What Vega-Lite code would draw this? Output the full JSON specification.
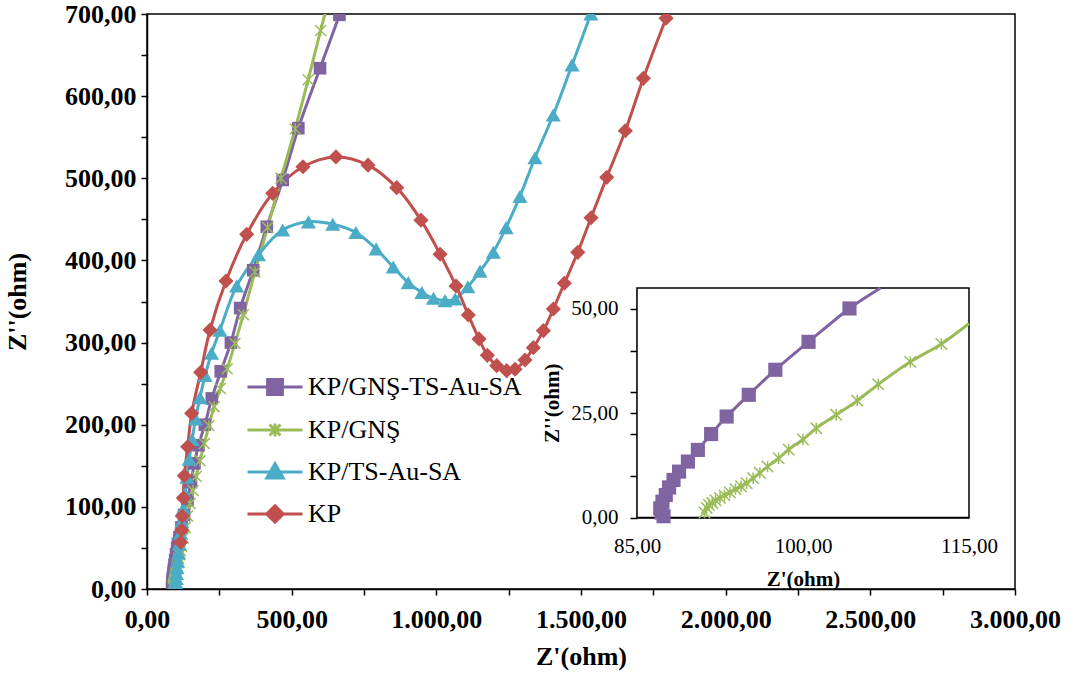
{
  "$schema": "https://vega.github.io/schema/vega-lite/v6.json",
  "width": 868,
  "height": 575,
  "autosize": {"type": "none"},
  "padding": {"left": 147, "top": 14, "right": 55, "bottom": 87},
  "background": "white",
  "config": {
    "locale": {"number": {"decimal": ",", "thousands": ".", "grouping": [3], "currency": ["", ""]}},
    "view": {"stroke": "black", "strokeWidth": 1.5},
    "font": "Liberation Serif",
    "axis": {"labelFont": "Liberation Serif", "titleFont": "Liberation Serif", "labelColor": "black", "titleColor": "black", "domainColor": "black", "tickColor": "black", "domainWidth": 1.5, "tickWidth": 1.5, "grid": false, "zindex": 1, "labelFlush": false, "labelOverlap": false, "labelBound": false}
  },
  "datasets": {
    "d": [
      {"s": "KP/GNŞ-TS-Au-SA", "i": 0, "x": 87.4, "y": 0.3},
      {"s": "KP/GNŞ-TS-Au-SA", "i": 1, "x": 87.2, "y": 1.2},
      {"s": "KP/GNŞ-TS-Au-SA", "i": 2, "x": 87.1, "y": 2.2},
      {"s": "KP/GNŞ-TS-Au-SA", "i": 3, "x": 87.3, "y": 3.8},
      {"s": "KP/GNŞ-TS-Au-SA", "i": 4, "x": 87.6, "y": 5.4},
      {"s": "KP/GNŞ-TS-Au-SA", "i": 5, "x": 87.9, "y": 7.2},
      {"s": "KP/GNŞ-TS-Au-SA", "i": 6, "x": 88.3, "y": 9},
      {"s": "KP/GNŞ-TS-Au-SA", "i": 7, "x": 88.8, "y": 11},
      {"s": "KP/GNŞ-TS-Au-SA", "i": 8, "x": 89.6, "y": 13.4},
      {"s": "KP/GNŞ-TS-Au-SA", "i": 9, "x": 90.5, "y": 16.2},
      {"s": "KP/GNŞ-TS-Au-SA", "i": 10, "x": 91.7, "y": 20},
      {"s": "KP/GNŞ-TS-Au-SA", "i": 11, "x": 93.1, "y": 24.2},
      {"s": "KP/GNŞ-TS-Au-SA", "i": 12, "x": 95.1, "y": 29.4},
      {"s": "KP/GNŞ-TS-Au-SA", "i": 13, "x": 97.5, "y": 35.4},
      {"s": "KP/GNŞ-TS-Au-SA", "i": 14, "x": 100.5, "y": 42.1},
      {"s": "KP/GNŞ-TS-Au-SA", "i": 15, "x": 104.2, "y": 50.1},
      {"s": "KP/GNŞ-TS-Au-SA", "i": 16, "x": 107, "y": 55},
      {"s": "KP/GNŞ-TS-Au-SA", "i": 17, "x": 112, "y": 63},
      {"s": "KP/GNŞ-TS-Au-SA", "i": 18, "x": 119, "y": 75},
      {"s": "KP/GNŞ-TS-Au-SA", "i": 19, "x": 128, "y": 90},
      {"s": "KP/GNŞ-TS-Au-SA", "i": 20, "x": 140, "y": 108},
      {"s": "KP/GNŞ-TS-Au-SA", "i": 21, "x": 152, "y": 130},
      {"s": "KP/GNŞ-TS-Au-SA", "i": 22, "x": 164, "y": 153},
      {"s": "KP/GNŞ-TS-Au-SA", "i": 23, "x": 178, "y": 175},
      {"s": "KP/GNŞ-TS-Au-SA", "i": 24, "x": 200, "y": 200},
      {"s": "KP/GNŞ-TS-Au-SA", "i": 25, "x": 224, "y": 232},
      {"s": "KP/GNŞ-TS-Au-SA", "i": 26, "x": 255, "y": 265},
      {"s": "KP/GNŞ-TS-Au-SA", "i": 27, "x": 290, "y": 300},
      {"s": "KP/GNŞ-TS-Au-SA", "i": 28, "x": 322, "y": 342},
      {"s": "KP/GNŞ-TS-Au-SA", "i": 29, "x": 367, "y": 388},
      {"s": "KP/GNŞ-TS-Au-SA", "i": 30, "x": 414, "y": 441},
      {"s": "KP/GNŞ-TS-Au-SA", "i": 31, "x": 469, "y": 498},
      {"s": "KP/GNŞ-TS-Au-SA", "i": 32, "x": 523, "y": 561},
      {"s": "KP/GNŞ-TS-Au-SA", "i": 33, "x": 598, "y": 634},
      {"s": "KP/GNŞ-TS-Au-SA", "i": 34, "x": 665, "y": 699},
      {"s": "KP/GNŞ-TS-Au-SA", "i": 35, "x": 678, "y": 714},

      {"s": "KP/GNŞ", "i": 0, "x": 91.1, "y": 1.2},
      {"s": "KP/GNŞ", "i": 1, "x": 91.3, "y": 2.3},
      {"s": "KP/GNŞ", "i": 2, "x": 91.5, "y": 3.0},
      {"s": "KP/GNŞ", "i": 3, "x": 91.8, "y": 3.5},
      {"s": "KP/GNŞ", "i": 4, "x": 92.1, "y": 4.1},
      {"s": "KP/GNŞ", "i": 5, "x": 92.5, "y": 4.7},
      {"s": "KP/GNŞ", "i": 6, "x": 92.9, "y": 5.3},
      {"s": "KP/GNŞ", "i": 7, "x": 93.4, "y": 6.0},
      {"s": "KP/GNŞ", "i": 8, "x": 93.9, "y": 6.8},
      {"s": "KP/GNŞ", "i": 9, "x": 94.4, "y": 7.5},
      {"s": "KP/GNŞ", "i": 10, "x": 94.9, "y": 8.2},
      {"s": "KP/GNŞ", "i": 11, "x": 95.5, "y": 9.4},
      {"s": "KP/GNŞ", "i": 12, "x": 96.1, "y": 10.7},
      {"s": "KP/GNŞ", "i": 13, "x": 96.8, "y": 12.2},
      {"s": "KP/GNŞ", "i": 14, "x": 97.8, "y": 14.2},
      {"s": "KP/GNŞ", "i": 15, "x": 98.7, "y": 16.3},
      {"s": "KP/GNŞ", "i": 16, "x": 100, "y": 18.7},
      {"s": "KP/GNŞ", "i": 17, "x": 101.2, "y": 21.4},
      {"s": "KP/GNŞ", "i": 18, "x": 103, "y": 24.6},
      {"s": "KP/GNŞ", "i": 19, "x": 104.9, "y": 28},
      {"s": "KP/GNŞ", "i": 20, "x": 106.8, "y": 31.9},
      {"s": "KP/GNŞ", "i": 21, "x": 109.7, "y": 37.3},
      {"s": "KP/GNŞ", "i": 22, "x": 112.5, "y": 41.6},
      {"s": "KP/GNŞ", "i": 23, "x": 115, "y": 46.5},
      {"s": "KP/GNŞ", "i": 24, "x": 119, "y": 52},
      {"s": "KP/GNŞ", "i": 25, "x": 125, "y": 62},
      {"s": "KP/GNŞ", "i": 26, "x": 132, "y": 75},
      {"s": "KP/GNŞ", "i": 27, "x": 140, "y": 89},
      {"s": "KP/GNŞ", "i": 28, "x": 149, "y": 104},
      {"s": "KP/GNŞ", "i": 29, "x": 159, "y": 120},
      {"s": "KP/GNŞ", "i": 30, "x": 170, "y": 137},
      {"s": "KP/GNŞ", "i": 31, "x": 183, "y": 156},
      {"s": "KP/GNŞ", "i": 32, "x": 198, "y": 177},
      {"s": "KP/GNŞ", "i": 33, "x": 214, "y": 199},
      {"s": "KP/GNŞ", "i": 34, "x": 232, "y": 222},
      {"s": "KP/GNŞ", "i": 35, "x": 253, "y": 244},
      {"s": "KP/GNŞ", "i": 36, "x": 277, "y": 268},
      {"s": "KP/GNŞ", "i": 37, "x": 304, "y": 299},
      {"s": "KP/GNŞ", "i": 38, "x": 333, "y": 334},
      {"s": "KP/GNŞ", "i": 39, "x": 373, "y": 386},
      {"s": "KP/GNŞ", "i": 40, "x": 417, "y": 440},
      {"s": "KP/GNŞ", "i": 41, "x": 463, "y": 500},
      {"s": "KP/GNŞ", "i": 42, "x": 512, "y": 560},
      {"s": "KP/GNŞ", "i": 43, "x": 557, "y": 620},
      {"s": "KP/GNŞ", "i": 44, "x": 600, "y": 680},
      {"s": "KP/GNŞ", "i": 45, "x": 624, "y": 712},

      {"s": "KP/TS-Au-SA", "i": 0, "x": 98, "y": 1},
      {"s": "KP/TS-Au-SA", "i": 1, "x": 99, "y": 4},
      {"s": "KP/TS-Au-SA", "i": 2, "x": 100, "y": 8},
      {"s": "KP/TS-Au-SA", "i": 3, "x": 101, "y": 13},
      {"s": "KP/TS-Au-SA", "i": 4, "x": 102, "y": 19},
      {"s": "KP/TS-Au-SA", "i": 5, "x": 104, "y": 26},
      {"s": "KP/TS-Au-SA", "i": 6, "x": 106, "y": 34},
      {"s": "KP/TS-Au-SA", "i": 7, "x": 109, "y": 44},
      {"s": "KP/TS-Au-SA", "i": 8, "x": 112, "y": 55},
      {"s": "KP/TS-Au-SA", "i": 9, "x": 116, "y": 68},
      {"s": "KP/TS-Au-SA", "i": 10, "x": 120, "y": 82},
      {"s": "KP/TS-Au-SA", "i": 11, "x": 125, "y": 98},
      {"s": "KP/TS-Au-SA", "i": 12, "x": 131, "y": 116},
      {"s": "KP/TS-Au-SA", "i": 13, "x": 138, "y": 136},
      {"s": "KP/TS-Au-SA", "i": 14, "x": 146, "y": 158},
      {"s": "KP/TS-Au-SA", "i": 15, "x": 156, "y": 182},
      {"s": "KP/TS-Au-SA", "i": 16, "x": 168, "y": 207},
      {"s": "KP/TS-Au-SA", "i": 17, "x": 183, "y": 233},
      {"s": "KP/TS-Au-SA", "i": 18, "x": 201, "y": 260},
      {"s": "KP/TS-Au-SA", "i": 19, "x": 223, "y": 287},
      {"s": "KP/TS-Au-SA", "i": 20, "x": 252, "y": 315},
      {"s": "KP/TS-Au-SA", "i": 21, "x": 310, "y": 369},
      {"s": "KP/TS-Au-SA", "i": 22, "x": 385, "y": 407},
      {"s": "KP/TS-Au-SA", "i": 23, "x": 469, "y": 437},
      {"s": "KP/TS-Au-SA", "i": 24, "x": 558, "y": 447},
      {"s": "KP/TS-Au-SA", "i": 25, "x": 642, "y": 444},
      {"s": "KP/TS-Au-SA", "i": 26, "x": 722, "y": 434},
      {"s": "KP/TS-Au-SA", "i": 27, "x": 792, "y": 414},
      {"s": "KP/TS-Au-SA", "i": 28, "x": 851, "y": 392},
      {"s": "KP/TS-Au-SA", "i": 29, "x": 903, "y": 373},
      {"s": "KP/TS-Au-SA", "i": 30, "x": 950, "y": 361},
      {"s": "KP/TS-Au-SA", "i": 31, "x": 990, "y": 354},
      {"s": "KP/TS-Au-SA", "i": 32, "x": 1030, "y": 351},
      {"s": "KP/TS-Au-SA", "i": 33, "x": 1065, "y": 353},
      {"s": "KP/TS-Au-SA", "i": 34, "x": 1109, "y": 368},
      {"s": "KP/TS-Au-SA", "i": 35, "x": 1151, "y": 387},
      {"s": "KP/TS-Au-SA", "i": 36, "x": 1197, "y": 410},
      {"s": "KP/TS-Au-SA", "i": 37, "x": 1241, "y": 440},
      {"s": "KP/TS-Au-SA", "i": 38, "x": 1289, "y": 478},
      {"s": "KP/TS-Au-SA", "i": 39, "x": 1341, "y": 525},
      {"s": "KP/TS-Au-SA", "i": 40, "x": 1404, "y": 577},
      {"s": "KP/TS-Au-SA", "i": 41, "x": 1469, "y": 638},
      {"s": "KP/TS-Au-SA", "i": 42, "x": 1534, "y": 700},
      {"s": "KP/TS-Au-SA", "i": 43, "x": 1548, "y": 714},

      {"s": "KP", "i": 0, "x": 116.5, "y": 56.9},
      {"s": "KP", "i": 1, "x": 120, "y": 71.8},
      {"s": "KP", "i": 2, "x": 122, "y": 88.9},
      {"s": "KP", "i": 3, "x": 125.5, "y": 110.8},
      {"s": "KP", "i": 4, "x": 129, "y": 137.9},
      {"s": "KP", "i": 5, "x": 140.6, "y": 173.2},
      {"s": "KP", "i": 6, "x": 154.5, "y": 213.9},
      {"s": "KP", "i": 7, "x": 185.6, "y": 263.8},
      {"s": "KP", "i": 8, "x": 217.8, "y": 315.3},
      {"s": "KP", "i": 9, "x": 273, "y": 375},
      {"s": "KP", "i": 10, "x": 344.6, "y": 431.8},
      {"s": "KP", "i": 11, "x": 434.4, "y": 481.7},
      {"s": "KP", "i": 12, "x": 539, "y": 514},
      {"s": "KP", "i": 13, "x": 653, "y": 526},
      {"s": "KP", "i": 14, "x": 764, "y": 516},
      {"s": "KP", "i": 15, "x": 863, "y": 488.6},
      {"s": "KP", "i": 16, "x": 947, "y": 449},
      {"s": "KP", "i": 17, "x": 1013, "y": 407.5},
      {"s": "KP", "i": 18, "x": 1068, "y": 368.9},
      {"s": "KP", "i": 19, "x": 1110.6, "y": 333.6},
      {"s": "KP", "i": 20, "x": 1147.6, "y": 304.4},
      {"s": "KP", "i": 21, "x": 1176.4, "y": 284.5},
      {"s": "KP", "i": 22, "x": 1208.7, "y": 271.9},
      {"s": "KP", "i": 23, "x": 1243, "y": 265.8},
      {"s": "KP", "i": 24, "x": 1272, "y": 267.5},
      {"s": "KP", "i": 25, "x": 1306.6, "y": 278.8},
      {"s": "KP", "i": 26, "x": 1335.3, "y": 293.8},
      {"s": "KP", "i": 27, "x": 1370, "y": 314.5},
      {"s": "KP", "i": 28, "x": 1404.5, "y": 340.9},
      {"s": "KP", "i": 29, "x": 1442.5, "y": 372.2},
      {"s": "KP", "i": 30, "x": 1488.8, "y": 409.9},
      {"s": "KP", "i": 31, "x": 1534.7, "y": 452},
      {"s": "KP", "i": 32, "x": 1589, "y": 501.2},
      {"s": "KP", "i": 33, "x": 1653.3, "y": 557.9},
      {"s": "KP", "i": 34, "x": 1715.5, "y": 621.7},
      {"s": "KP", "i": 35, "x": 1794, "y": 694.8}
    ]
  },
  "data": {"name": "d"},
  "layer": [
    {
      "layer": [
        {
          "mark": {"type": "line", "interpolate": "catmull-rom", "strokeWidth": 3, "clip": true},
          "encoding": {
            "x": {"field": "x", "type": "quantitative", "scale": {"domain": [0, 3000], "nice": false, "zero": false},
              "axis": {"title": "Z'(ohm)", "values": [0, 250, 500, 750, 1000, 1250, 1500, 1750, 2000, 2250, 2500, 2750, 3000], "format": ",.2f", "labelExpr": "datum.value % 500 === 0 ? datum.label : ''", "labelFontSize": 26, "labelFontWeight": "bold", "titleFontSize": 26, "titleFontWeight": "bold", "tickSize": 6, "labelPadding": 11, "titlePadding": 11}},
            "y": {"field": "y", "type": "quantitative", "scale": {"domain": [0, 700], "nice": false, "zero": false},
              "axis": {"title": "Z''(ohm)", "values": [0, 50, 100, 150, 200, 250, 300, 350, 400, 450, 500, 550, 600, 650, 700], "format": ",.2f", "labelExpr": "datum.value % 100 === 0 ? datum.label : ''", "labelFontSize": 26, "labelFontWeight": "bold", "titleFontSize": 26, "titleFontWeight": "bold", "tickSize": 6, "labelPadding": 5, "titlePadding": 34}},
            "order": {"field": "i", "type": "quantitative"},
            "color": {"field": "s", "type": "nominal", "legend": null,
              "scale": {"domain": ["KP", "KP/TS-Au-SA", "KP/GNŞ", "KP/GNŞ-TS-Au-SA"], "range": ["#C0504D", "#4BACC6", "#9BBB59", "#8064A2"]}}
          }
        },
        {
          "transform": [{"filter": "datum.s === 'KP/GNŞ-TS-Au-SA'"}],
          "mark": {"type": "point", "filled": true, "opacity": 1, "clip": true, "shape": "square", "size": 160},
          "encoding": {
            "x": {"field": "x", "type": "quantitative"},
            "y": {"field": "y", "type": "quantitative"},
            "color": {"field": "s", "type": "nominal", "legend": null}
          }
        },
        {
          "transform": [{"filter": "datum.s === 'KP/GNŞ'"}],
          "mark": {"type": "point", "filled": false, "opacity": 1, "strokeWidth": 1.5, "clip": true, "shape": "M-1,-1L1,1M-1,1L1,-1M0,-1L0,1", "size": 120},
          "encoding": {
            "x": {"field": "x", "type": "quantitative"},
            "y": {"field": "y", "type": "quantitative"},
            "color": {"field": "s", "type": "nominal", "legend": null}
          }
        },
        {
          "transform": [{"filter": "datum.s === 'KP/TS-Au-SA'"}],
          "mark": {"type": "point", "filled": true, "opacity": 1, "clip": true, "shape": "triangle-up", "size": 230},
          "encoding": {
            "x": {"field": "x", "type": "quantitative"},
            "y": {"field": "y", "type": "quantitative"},
            "color": {"field": "s", "type": "nominal", "legend": null}
          }
        },
        {
          "transform": [{"filter": "datum.s === 'KP'"}],
          "mark": {"type": "point", "filled": true, "opacity": 1, "clip": true, "shape": "diamond", "size": 230},
          "encoding": {
            "x": {"field": "x", "type": "quantitative"},
            "y": {"field": "y", "type": "quantitative"},
            "color": {"field": "s", "type": "nominal", "legend": null}
          }
        },
        {
          "transform": [{"filter": "false"}],
          "mark": {"type": "point", "filled": true, "opacity": 1, "strokeWidth": 3},
          "encoding": {
            "x": {"field": "x", "type": "quantitative"},
            "y": {"field": "y", "type": "quantitative"},
            "fill": {"field": "s", "type": "nominal",
              "scale": {"domain": ["KP/GNŞ-TS-Au-SA", "KP/GNŞ", "KP/TS-Au-SA", "KP"], "range": ["#8064A2", "#9BBB59", "#4BACC6", "#C0504D"]},
              "legend": {"title": null, "orient": "none", "legendX": 99, "legendY": 344, "direction": "vertical", "padding": 0, "labelFont": "Liberation Serif", "labelFontSize": 26, "labelColor": "black", "labelLimit": 0, "labelOffset": 4, "rowPadding": -1, "symbolSize": 3025, "symbolStrokeWidth": 3, "symbolOpacity": 1}},
            "stroke": {"field": "s", "type": "nominal",
              "scale": {"domain": ["KP/GNŞ-TS-Au-SA", "KP/GNŞ", "KP/TS-Au-SA", "KP"], "range": ["#8064A2", "#9BBB59", "#4BACC6", "#C0504D"]},
              "legend": {"title": null, "orient": "none", "legendX": 99, "legendY": 344, "direction": "vertical", "padding": 0, "labelFont": "Liberation Serif", "labelFontSize": 26, "labelColor": "black", "labelLimit": 0, "labelOffset": 4, "rowPadding": -1, "symbolSize": 3025, "symbolStrokeWidth": 3, "symbolOpacity": 1}},
            "shape": {"field": "s", "type": "nominal",
              "scale": {"domain": ["KP/GNŞ-TS-Au-SA", "KP/GNŞ", "KP/TS-Au-SA", "KP"], "range": ["M-1,0L1,0M-0.27,-0.27L0.27,-0.27L0.27,0.27L-0.27,0.27Z", "M-1,0L1,0M-0.2,-0.2L0.2,0.2M-0.2,0.2L0.2,-0.2M0,-0.24L0,0.24", "M-1,0L1,0M0,-0.3L0.3,0.22L-0.3,0.22Z", "M-1,0L1,0M0,-0.3L0.3,0L0,0.3L-0.3,0Z"]},
              "legend": {"title": null, "orient": "none", "legendX": 99, "legendY": 344, "direction": "vertical", "padding": 0, "labelFont": "Liberation Serif", "labelFontSize": 26, "labelColor": "black", "labelLimit": 0, "labelOffset": 4, "rowPadding": -1, "symbolSize": 3025, "symbolStrokeWidth": 3, "symbolOpacity": 1}}
          }
        }
      ]
    },
    {
      "layer": [
        {
          "data": {"values": [{"x0": 85, "x1": 115, "y0": 0, "y1": 55}]},
          "mark": {"type": "rect", "fill": "white", "stroke": "black", "strokeWidth": 1.5},
          "encoding": {
            "x": {"field": "x0", "type": "quantitative", "scale": {"domain": [85, 115], "range": [490, 822], "nice": false, "zero": false},
              "axis": {"title": "Z'(ohm)", "orient": "bottom", "offset": -71.5, "values": [85, 100, 115], "format": ",.2f", "labelFontSize": 21, "labelFontWeight": "normal", "titleFontSize": 21, "titleFontWeight": "bold", "tickSize": 0, "labelPadding": 18, "titlePadding": 12}},
            "x2": {"field": "x1"},
            "y": {"field": "y0", "type": "quantitative", "scale": {"domain": [0, 55], "range": [503.5, 274], "nice": false, "zero": false},
              "axis": {"title": "Z''(ohm)", "orient": "left", "offset": -490, "values": [0, 10, 20, 25, 30, 40, 50], "format": ",.2f", "labelExpr": "datum.value % 25 === 0 ? datum.label : ''", "labelFontSize": 21, "labelFontWeight": "normal", "titleFontSize": 21, "titleFontWeight": "bold", "tickSize": 7, "labelPadding": 12, "titlePadding": 8}},
            "y2": {"field": "y1"}
          }
        },
        {
          "transform": [{"filter": "(datum.s === 'KP/GNŞ-TS-Au-SA' || datum.s === 'KP/GNŞ') && datum.x <= 115.1 && datum.y <= 55.4"}],
          "mark": {"type": "line", "interpolate": "catmull-rom", "strokeWidth": 3},
          "encoding": {
            "x": {"field": "x", "type": "quantitative"},
            "y": {"field": "y", "type": "quantitative"},
            "order": {"field": "i", "type": "quantitative"},
            "color": {"field": "s", "type": "nominal", "legend": null}
          }
        },
        {
          "transform": [{"filter": "datum.s === 'KP/GNŞ-TS-Au-SA' && datum.x < 114.5 && datum.y < 54.5"}],
          "mark": {"type": "point", "filled": true, "opacity": 1, "shape": "square", "size": 200},
          "encoding": {
            "x": {"field": "x", "type": "quantitative"},
            "y": {"field": "y", "type": "quantitative"},
            "color": {"field": "s", "type": "nominal", "legend": null}
          }
        },
        {
          "transform": [{"filter": "datum.s === 'KP/GNŞ' && datum.x < 114.5 && datum.y < 54.5"}],
          "mark": {"type": "point", "filled": false, "opacity": 1, "strokeWidth": 1.5, "shape": "M-1,-1L1,1M-1,1L1,-1M0,-1L0,1", "size": 130},
          "encoding": {
            "x": {"field": "x", "type": "quantitative"},
            "y": {"field": "y", "type": "quantitative"},
            "color": {"field": "s", "type": "nominal", "legend": null}
          }
        }
      ]
    }
  ],
  "resolve": {"scale": {"x": "independent", "y": "independent"}, "axis": {"x": "independent", "y": "independent"}}
}
